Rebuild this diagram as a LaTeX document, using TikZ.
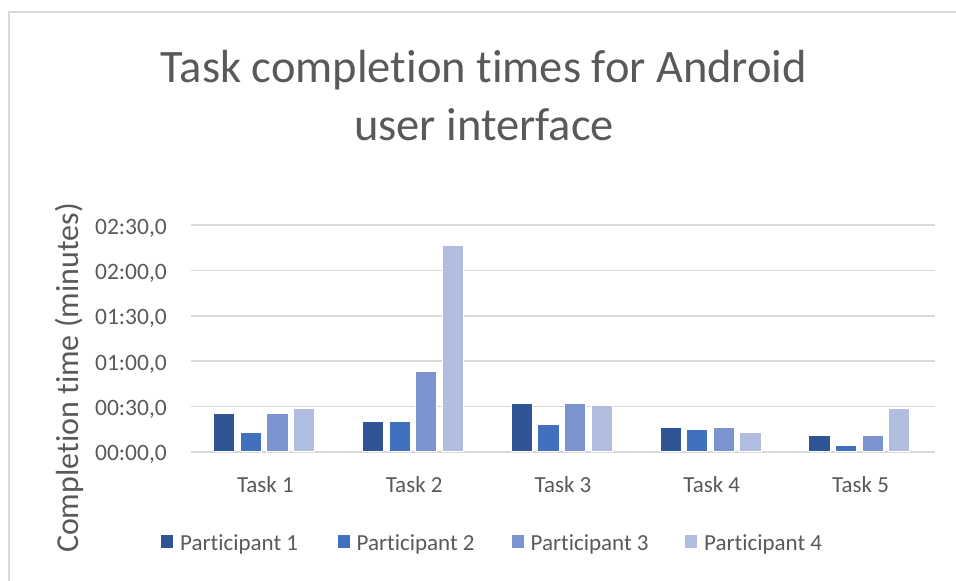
\documentclass[tikz,border=0pt]{standalone}
\usepackage{fontspec}
\setmainfont{Carlito}[RawFeature={-liga;-clig;-calt}]
\usepackage{xcolor}
\usepackage{tikz}
\usetikzlibrary{positioning}
\definecolor{INK}{HTML}{595959}
\definecolor{GRID}{HTML}{D9D9D9}
\definecolor{PART1}{HTML}{2F5597}
\definecolor{PART2}{HTML}{4070BE}
\definecolor{PART3}{HTML}{7B94CF}
\definecolor{PART4}{HTML}{B1BEE0}

\begin{document}
\begin{tikzpicture}[
    x=1pt, y=-1pt,
    frame/.style={draw=GRID, line width=2pt},
    grid/.style={draw=GRID, line width=1.6pt},
    bar/.style={draw=white, line width=0.5pt},
    title/.style={font=\fontsize{46.5}{58}\selectfont, text=INK, inner sep=0pt, anchor=base},
    axistitle/.style={font=\fontsize{32}{38}\selectfont, text=INK, inner sep=0pt, rotate=90},
    tick/.style={font=\fontsize{23.5}{27}\selectfont, text=INK, inner sep=0pt, anchor=base east},
    cat/.style={font=\fontsize{23}{27}\selectfont, text=INK, inner sep=0pt, anchor=base},
    legend/.style={font=\fontsize{23}{27}\selectfont, text=INK, inner sep=0pt, anchor=base west},
  ]

  \useasboundingbox (0,0) rectangle (956,581);

  \def\xo{191}    % left end of the plot
  \def\yo{451.7}  % zero line
  \def\cw{148.8}  % width of one task
  \def\bw{21.3}   % bar width
  \def\bp{26.6}   % bar pitch
  \def\ps{1.51}   % pt per second

  % chart frame
  \draw[frame] (9,581) -- (9,12) -- (956,12);

  % --- title ---
  \node[title] (title) at (484,82) {Task completion times for Android};
  \node[title] (title2) at (484,140) {user interface};

  % --- axis title ---
  \node[axistitle] (ytitle) at (69,378) {Completion time (minutes)};

  % --- grid and ticks ---
  \foreach \k/\lab in {0/{00:00,0}, 1/{00:30,0}, 2/{01:00,0}, 3/{01:30,0}, 4/{02:00,0}, 5/{02:30,0}} {
    \draw[grid] (\xo,\yo-\k*45.3) -- (935,\yo-\k*45.3);
    \node[tick] (tick\k) at (167,\yo-\k*45.3+9) {\lab};
  }

  % --- bars (seconds) ---
  \foreach \t/\a/\b/\c/\d in {1/25.4/13/25.4/28.7, 2/19.9/19.9/53.4/136.7,
      3/32.2/18.3/32.2/30.7, 4/16.4/14.8/16.4/13, 5/11.1/4.2/11.1/28.7} {
    \foreach \v [count=\p] in {\a,\b,\c,\d} {
      \pgfmathsetmacro\xl{\xo+(\t-1)*\cw+22.4+(\p-1)*\bp}
      \filldraw[bar, fill=PART\p] (\xl,\yo) rectangle (\xl+\bw,\yo-\v*\ps);
    }
    \node[cat] (task\t) at (\xo+\t*\cw-\cw/2,492) {Task \t};
  }

  % --- legend ---
  \foreach \p/\xs in {1/161, 2/337.5, 3/511.5, 4/685} {
    \fill[PART\p] (\xs,535) rectangle (\xs+12,548);
    \node[legend] (leg\p) at (\xs+19,550) {Participant \p};
  }

\end{tikzpicture}
\end{document}
